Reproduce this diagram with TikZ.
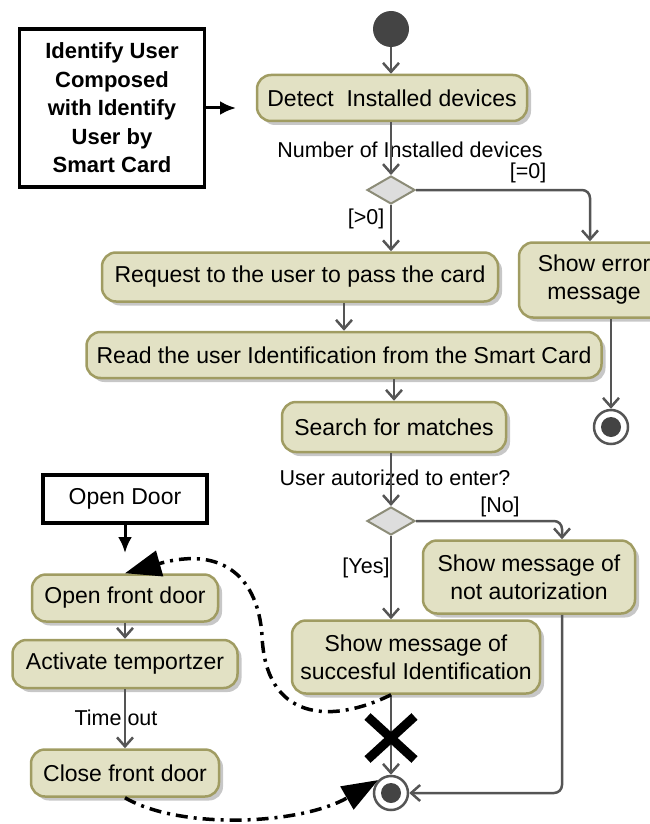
\documentclass[tikz,border=0pt]{standalone}
\usepackage{fontspec}
\setmainfont{Liberation Sans}
\usetikzlibrary{arrows.meta, shapes.geometric, shapes.misc, shadows}
\definecolor{actfill}{HTML}{E2E1C4}
\definecolor{actline}{HTML}{A09C62}
\definecolor{flowline}{HTML}{555555}
\definecolor{decfill}{HTML}{DDDDDD}
\definecolor{decline}{HTML}{8C8C78}
\definecolor{dotfill}{HTML}{444444}

\begin{document}
\begin{tikzpicture}[x=1pt, y=-1pt,
  every node/.style={font=\fontsize{21.5pt}{26pt}\selectfont, inner sep=0pt},
  act/.style={rounded corners=14pt, draw=actline, line width=2.5pt, fill=actfill, align=center,
    font=\fontsize{23pt}{28pt}\selectfont,
    drop shadow={shadow xshift=4pt, shadow yshift=-4pt, fill=black!22, opacity=1}},
  frame/.style={draw, line width=3.5pt, fill=white, align=center},
  dec/.style={diamond, draw=decline, line width=2pt, fill=decfill, minimum width=48pt, minimum height=28pt},
  init/.style={circle, fill=dotfill, minimum size=36pt},
  fin/.style={circle, draw=flowline, line width=2.5pt, fill=white, minimum size=34pt,
    path picture={\fill[dotfill] (path picture bounding box.center) circle (10pt);}},
  flow/.style={draw=flowline, line width=2.5pt, -{Straight Barb[length=9pt,width=16pt]}},
  dashflow/.style={line width=3.5pt, dash pattern=on 12pt off 6pt on 3pt off 6pt, -{Triangle[length=36pt,width=26pt]}},
  sig/.style={line width=3pt, -{Latex[length=16pt,width=14pt]}}]
\useasboundingbox (0,0) rectangle (649,824);

\node[init] (start) at (391,29) {};
\node[frame, minimum width=185pt, minimum height=158pt, font=\fontsize{22pt}{28.5pt}\selectfont\bfseries] (uc) at (112,108) {Identify User\\Composed\\with Identify\\User by\\Smart Card};
\coordinate (ucend) at (236,108);
\node[act, minimum width=270pt, minimum height=46pt] (detect) at (392,98) {Detect\ \ Installed devices};
\node (nlbl) at (410,150) {Number of Installed devices};
\node[dec] (d1) at (391,190) {};
\node (eq) at (528,173) {[=0]};
\node (gt) at (366,219) {[>0]};
\node[act, minimum width=396pt, minimum height=49pt] (req) at (300,277) {Request to the user to pass the card};
\node[act, minimum width=150pt, minimum height=75pt] (err) at (594,280) {Show error\\message};
\coordinate (errin) at ([xshift=-4pt]err.north);
\coordinate (errout) at ([xshift=17pt]err.south);
\node[act, minimum width=515pt, minimum height=46pt] (read) at (344,355) {Read the user Identification from the Smart Card};
\node[act, minimum width=224pt, minimum height=50pt] (search) at (394,427) {Search for matches};
\node[fin] (f1) at (611,427) {};
\node (alb) at (395,478) {User autorized to enter?};
\node[dec] (d2) at (391,521) {};
\node (no) at (500,507) {[No]};
\node (yes) at (366,568) {[Yes]};
\node[act, minimum width=212pt, minimum height=73pt] (notaut) at (529,577) {Show message of\\not autorization};
\coordinate (nain) at ([xshift=33pt]notaut.north);
\coordinate (naout) at ([xshift=33pt]notaut.south);
\node[act, minimum width=248pt, minimum height=73pt] (succ) at (416,657) {Show message of\\succesful Identification};
\node[fin] (f2) at (391,793) {};
\node[frame, minimum width=164pt, minimum height=48pt, font=\fontsize{23pt}{28pt}\selectfont] (od) at (125,499) {Open Door};
\coordinate (odend) at (125,553);
\node[act, minimum width=186pt, minimum height=47pt] (ofd) at (125,598) {Open front door};
\node[act, minimum width=225pt, minimum height=48pt] (acti) at (125,664) {Activate temportzer};
\node (tout) at (116,718) {Time out};
\node[act, minimum width=188pt, minimum height=47pt] (cfd) at (125,773) {Close front door};

\draw[sig] (uc) -- (ucend);
\draw[sig] (od) -- (odend);
\draw[flow] (start) -- (start |- detect.north);
\draw[flow] (start |- detect.south) -- (d1);
\draw[flow, rounded corners=8pt] (d1) -| (errin);
\draw[flow] (d1) -- (d1 |- req.north);
\draw[flow] (req.south -| read) -- (read.north);
\draw[flow] (read.south -| search) -- (search.north);
\draw[flow] (errout) -- (f1);
\draw[flow] (search.south -| d2) -- (d2);
\draw[flow, rounded corners=8pt] (d2) -| (nain);
\draw[flow] (d2) -- (d2 |- succ.north);
\draw[flow] (d2 |- succ.south) -- (f2);
\draw[flow, rounded corners=8pt] (naout) |- (f2);
\draw[flow] (ofd) -- (acti);
\draw[flow] (acti) -- (cfd);
\node[cross out, draw, line width=9pt, minimum width=38pt, minimum height=34pt] (stop) at (391,738) {};
\draw[dashflow] (d2 |- succ.south) .. controls (330,725) and (265,720) .. (262,635)
  .. controls (258,580) and (225,545) .. (ofd.north);
\draw[dashflow] (cfd.south) .. controls (180,830) and (300,825) .. (f2.north west);
\end{tikzpicture}
\end{document}
